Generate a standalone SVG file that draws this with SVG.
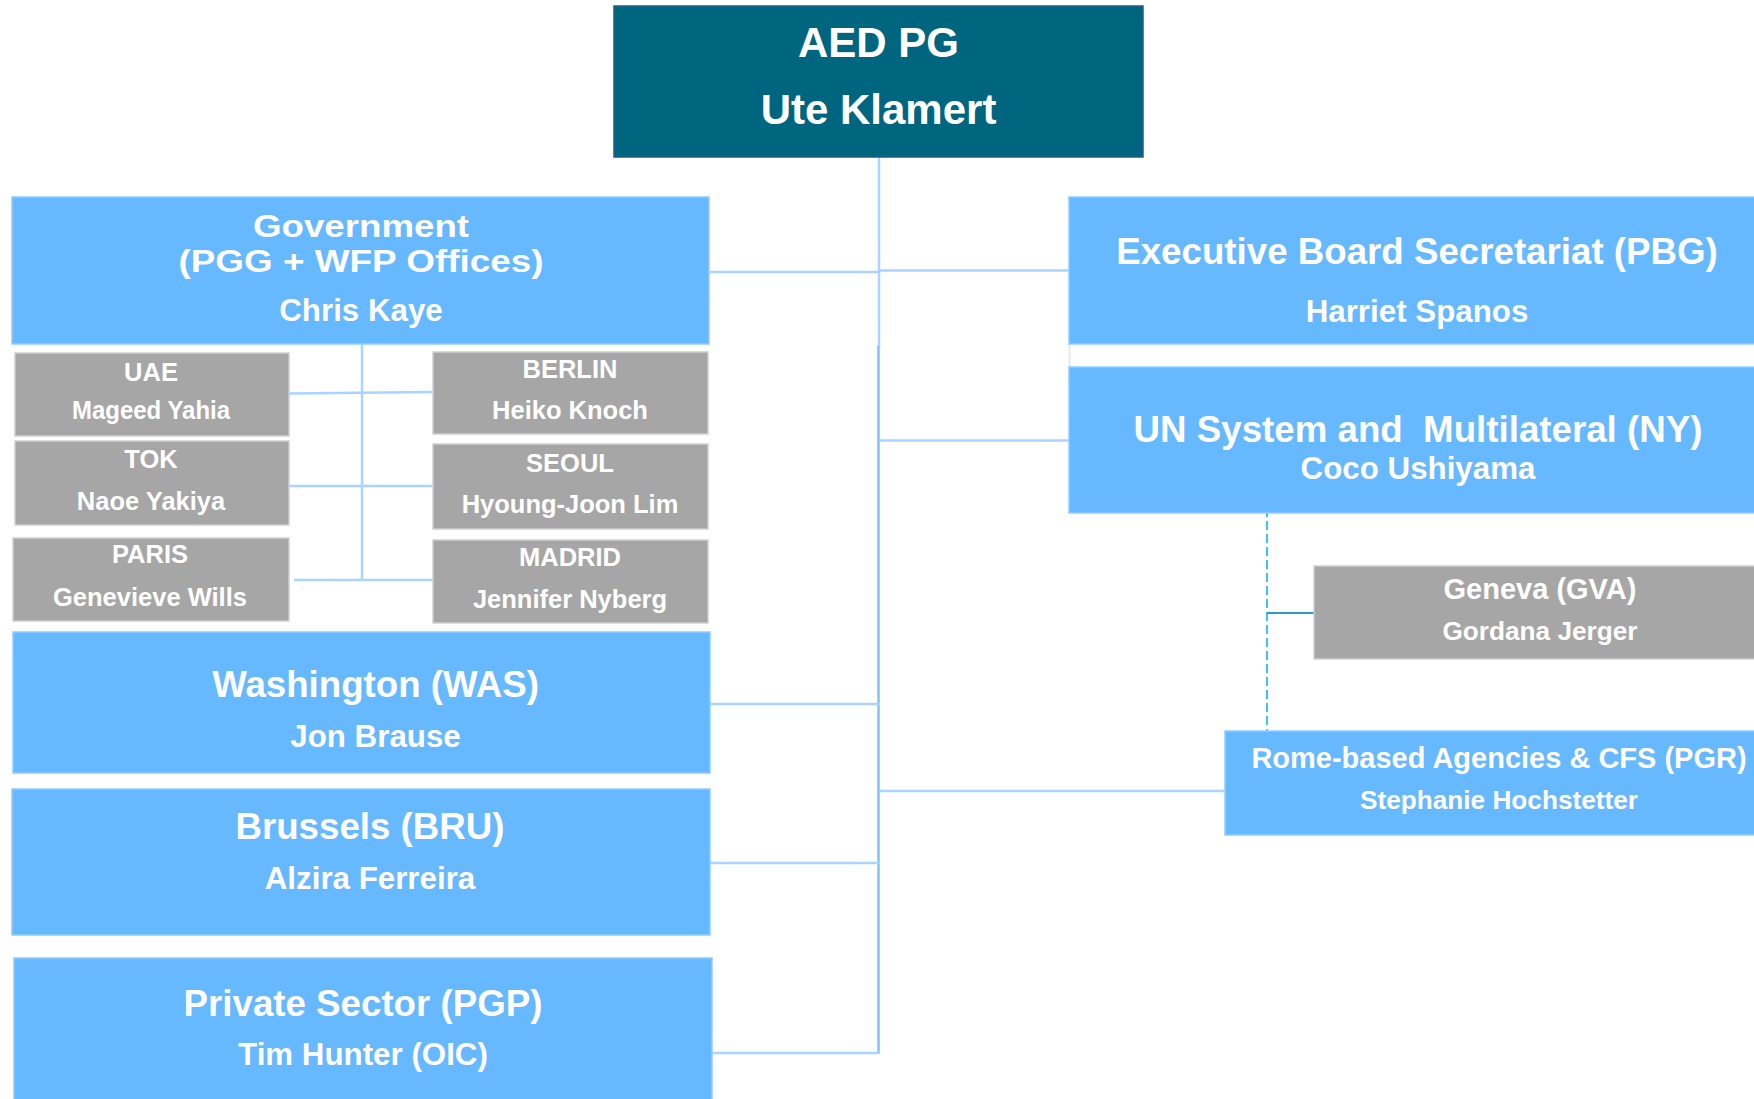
<svg xmlns="http://www.w3.org/2000/svg" width="1754" height="1099" viewBox="0 0 1754 1099">
<style>
.blue{fill:#66B8FF;stroke:#93CBFF;stroke-width:1.5}
.gray{fill:#A6A6A6;stroke:#CFCFCF;stroke-width:1.5}
.top{fill:#00667F;stroke:#1F5F86;stroke-width:1.5}
text{font-family:"Liberation Sans",Arial,sans-serif;font-weight:bold;fill:#FFFFFF;text-anchor:middle}
.t42{font-size:42px}
.t37{font-size:36.7px}
.t32{font-size:31.5px}
.t31{font-size:31.3px}
.t29{font-size:29px}
.t26{font-size:26.2px}
.t25{font-size:25.5px}
.conn{fill:none;stroke:#A8D4FF;stroke-width:2.5}
.conn2{fill:none;stroke:#7FC0FF;stroke-width:2.5}
.dash{fill:none;stroke:#00B0F0;stroke-width:1.5;stroke-dasharray:9 4}
.teal{fill:none;stroke:#2A9CC2;stroke-width:2}
</style>
<rect width="1754" height="1099" fill="#FFFFFF"/>
<g id="connectors">
<path class="conn" d="M879 157 V347"/>
<path class="conn2" d="M878.5 346 V1054"/>
<path class="conn" d="M710 272 H879"/>
<path class="conn" d="M879 270.5 H1069"/>
<path class="conn" d="M879 440.5 H1069"/>
<path class="conn" d="M710 704 H879"/>
<path class="conn" d="M710 863 H879"/>
<path class="conn" d="M712 1053 H879"/>
<path class="conn" d="M879 791 H1225"/>
<path fill="none" stroke="#CFE7FF" stroke-width="1.5" d="M1069.5 344 V383"/>
<path class="conn" d="M362 344 V581"/>
<path class="conn" d="M289 393.5 L433 392"/>
<path class="conn" d="M289 486 H433"/>
<path class="conn" d="M294 580 H433"/>
<path class="dash" d="M1267 508 V785"/>
<path class="teal" d="M1267 613 H1314"/>
</g>
<g id="aed-pg">
<rect class="top" x="614" y="6" width="529" height="151"/>
<text class="t42" x="878.5" y="57">AED PG</text>
<text class="t42" x="878.5" y="124">Ute Klamert</text>
</g>
<g id="government">
<rect class="blue" x="12" y="197" width="697" height="147"/>
<text class="t32" x="361" y="237" textLength="216" lengthAdjust="spacingAndGlyphs">Government</text>
<text class="t32" x="361" y="272" textLength="365" lengthAdjust="spacingAndGlyphs">(PGG + WFP Offices)</text>
<text class="t31" x="361" y="321">Chris Kaye</text>
</g>
<g id="executive-board">
<rect class="blue" x="1069" y="197" width="700" height="147"/>
<text class="t37" x="1417" y="264">Executive Board Secretariat (PBG)</text>
<text class="t31" x="1417" y="322">Harriet Spanos</text>
</g>
<g id="un-system">
<rect class="blue" x="1069" y="367" width="700" height="146"/>
<text class="t37" x="1418" y="442" xml:space="preserve">UN System and  Multilateral (NY)</text>
<text class="t31" x="1418" y="479">Coco Ushiyama</text>
</g>
<g id="geneva">
<rect class="gray" x="1314" y="566" width="460" height="93"/>
<text class="t29" x="1540" y="599">Geneva (GVA)</text>
<text class="t26" x="1540" y="640">Gordana Jerger</text>
</g>
<g id="rome">
<rect class="blue" x="1225" y="731" width="560" height="104"/>
<text class="t29" x="1499" y="768">Rome-based Agencies &amp; CFS (PGR)</text>
<text class="t26" x="1499" y="809">Stephanie Hochstetter</text>
</g>
<g id="uae">
<rect class="gray" x="15" y="353" width="274" height="83"/>
<text class="t25" x="151" y="381">UAE</text>
<text class="t25" x="151" y="419" textLength="158" lengthAdjust="spacingAndGlyphs">Mageed Yahia</text>
</g>
<g id="tok">
<rect class="gray" x="15" y="441" width="274" height="84"/>
<text class="t25" x="151" y="468">TOK</text>
<text class="t25" x="151" y="510">Naoe Yakiya</text>
</g>
<g id="paris">
<rect class="gray" x="13" y="538" width="276" height="83"/>
<text class="t25" x="150" y="563">PARIS</text>
<text class="t25" x="150" y="606">Genevieve Wills</text>
</g>
<g id="berlin">
<rect class="gray" x="433" y="352" width="275" height="82"/>
<text class="t25" x="570" y="378">BERLIN</text>
<text class="t25" x="570" y="419">Heiko Knoch</text>
</g>
<g id="seoul">
<rect class="gray" x="433" y="444" width="275" height="85"/>
<text class="t25" x="570" y="472">SEOUL</text>
<text class="t25" x="570" y="513">Hyoung-Joon Lim</text>
</g>
<g id="madrid">
<rect class="gray" x="433" y="540" width="275" height="83"/>
<text class="t25" x="570" y="566">MADRID</text>
<text class="t25" x="570" y="608">Jennifer Nyberg</text>
</g>
<g id="washington">
<rect class="blue" x="13" y="632" width="697" height="141"/>
<text class="t37" x="375.5" y="697">Washington (WAS)</text>
<text class="t31" x="375.5" y="747">Jon Brause</text>
</g>
<g id="brussels">
<rect class="blue" x="12" y="789" width="698" height="146"/>
<text class="t37" x="370" y="839">Brussels (BRU)</text>
<text class="t31" x="370" y="889">Alzira Ferreira</text>
</g>
<g id="private-sector">
<rect class="blue" x="14" y="958" width="698" height="150"/>
<text class="t37" x="363" y="1016">Private Sector (PGP)</text>
<text class="t31" x="363" y="1065">Tim Hunter (OIC)</text>
</g>
</svg>
